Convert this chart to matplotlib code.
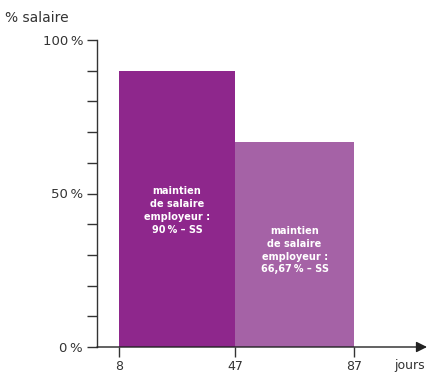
import matplotlib.pyplot as plt
from matplotlib.ticker import FixedLocator

# Salary maintenance periods (days) and share of salary paid
period_starts = [8, 47]
period_ends = [47, 87]
salary_share = [90, 66.67]
bar_colors = ['#8e278c', '#a562a6']
bar_labels = ['maintien\nde salaire\nemployeur :\n90\u2009% \u2013 SS',
              'maintien\nde salaire\nemployeur :\n66,67\u2009% \u2013 SS']
label_y = [44.5, 31.5]

x_ticks = [8, 47, 87]
y_major = [0, 50, 100]
y_minor = [10, 20, 30, 40, 60, 70, 80, 90]

plt.rcParams['font.family'] = ['DejaVu Sans']
fig = plt.figure(figsize=(4.31, 3.73), dpi=100)
ax = fig.add_axes([97 / 431, 26 / 373, 330 / 431, 307 / 373])

for start, end, share, color, text, ty in zip(period_starts, period_ends, salary_share,
                                              bar_colors, bar_labels, label_y):
    ax.bar(start, share, width=end - start, align='edge', color=color, zorder=2)
    ax.text((start + end) / 2, ty, text, color='white', fontsize=7, fontweight='bold',
            ha='center', va='center', linespacing=1.35, zorder=3)

ax.set_xlim(0.6, 111.5)
ax.set_ylim(0, 100)

# axes styling: left spine plus an arrowed day axis
for side in ['top', 'right', 'bottom']:
    ax.spines[side].set_visible(False)
ax.spines['left'].set_color('#333333')
ax.spines['left'].set_linewidth(1.0)
ax.annotate('', xy=(111.5, 0), xytext=(0.6, 0), xycoords='data',
            arrowprops=dict(arrowstyle='-|>', color='#222222', lw=1.0,
                            mutation_scale=16, shrinkA=0, shrinkB=0),
            annotation_clip=False, zorder=4)

ax.set_xticks(x_ticks)
ax.set_xticklabels([str(v) for v in x_ticks])
ax.set_yticks(y_major)
ax.set_yticklabels([f'{v}\u2009%' for v in y_major])
ax.yaxis.set_minor_locator(FixedLocator(y_minor))
ax.tick_params(axis='y', which='both', length=7, width=1.0, color='#333333',
               labelsize=9.5, labelcolor='#333333', pad=3)
ax.tick_params(axis='x', length=7, width=1.0, color='#333333',
               labelsize=9, labelcolor='#333333', pad=2)

fig.text(5 / 431, 1 - 18 / 373, '% salaire', fontsize=10, color='#333333',
         ha='left', va='center')
fig.text(394 / 431, 1 - 366 / 373, 'jours', fontsize=9, color='#333333',
         ha='left', va='center')

fig.savefig('out.png', dpi=100)
